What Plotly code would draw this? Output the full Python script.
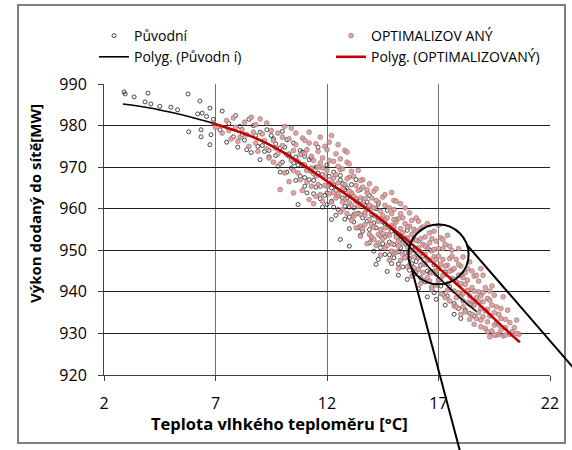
import plotly.graph_objects as go

# ---------------- data ----------------
orig_x = [2.9, 2.95, 3.35, 3.97, 3.84, 4.1, 4.5, 5.0, 5.3, 5.77, 6.2, 6.3, 6.75, 6.4, 6.6, 6.9, 7.3,
          5.8, 6.35, 6.35, 6.8, 6.75,
          7.2, 7.5, 7.6, 7.8, 8.0, 8.1, 8.3, 8.5, 8.6, 8.8, 9.0, 9.1, 9.3, 9.4, 9.6, 9.8, 9.9, 10.0,
          10.2, 10.3, 10.5, 10.6, 10.7, 10.9, 11.0, 11.1, 11.2, 11.3, 11.5, 11.6, 10.7,
          11.8, 11.9, 12.0, 12.1, 12.2, 12.3, 12.4, 12.5, 12.6, 12.7, 12.8, 12.9, 13.0, 13.1, 13.2,
          13.3, 13.4, 13.5, 13.6, 13.7, 13.8, 13.9, 14.0, 14.1, 14.2, 14.3, 14.4, 14.5, 14.6, 14.7,
          14.8, 14.9, 15.0, 15.1, 15.2, 15.3, 15.5, 15.6, 15.7, 15.8, 16.0, 16.1,
          16.2, 16.3, 16.5, 16.6, 16.7, 16.8, 17.0, 17.2, 17.3, 17.5, 17.7, 17.8, 18.0, 18.2, 18.3,
          18.5, 18.6,
          12.2, 12.6, 13.0, 14.2, 14.7,
          7.9, 8.2, 8.4, 8.7, 8.9, 9.2, 9.5, 9.7, 9.9, 10.1, 10.4, 10.6, 10.8, 10.9, 11.0, 11.2, 11.3,
          11.4, 11.6, 11.7, 11.8, 12.0, 12.1, 12.2, 12.3, 12.5, 12.6, 12.8, 12.9, 13.0, 13.1, 13.2,
          13.4, 13.5, 13.6, 13.8, 13.9, 14.0, 14.1, 14.2, 14.4, 14.5, 14.6, 14.8, 15.0, 15.1, 15.2,
          15.4, 15.5, 15.7, 15.9, 16.0, 16.2, 16.4, 16.6, 16.8, 16.9, 17.1, 17.4, 17.6, 17.9, 18.1,
          18.4, 9.0, 10.2, 11.5, 12.7, 13.3, 14.3, 15.3,
          9.4, 9.7, 10.0, 10.3, 10.5, 10.8, 11.0, 11.1, 11.4, 11.7, 12.0, 12.3, 12.4, 12.8, 13.0, 13.2,
          13.5, 13.7, 13.9, 14.1, 14.3, 14.6, 14.9, 15.2, 15.6, 15.8, 16.1, 16.5, 16.9, 17.3, 17.7, 18.0]
orig_y = [988.1, 987.6, 986.9, 987.8, 985.7, 985.2, 984.6, 984.4, 983.8, 987.6, 982.8, 985.9, 984.2, 983.0, 982.2, 981.5, 983.5,
          978.5, 979.0, 977.3, 977.8, 975.4,
          979.0, 976.0, 980.5, 977.3, 974.8, 979.8, 976.5, 981.5, 973.5, 977.6, 971.8, 975.2, 979.0, 972.5, 976.8, 970.2, 974.6, 978.6,
          968.8, 972.6, 975.8, 966.8, 970.5, 973.6, 967.5, 963.8, 971.8, 969.0, 965.2, 974.8, 961.0,
          968.2, 963.2, 970.5, 966.0, 961.8, 968.8, 964.4, 959.8, 966.9, 962.6, 957.5, 965.0, 960.4, 963.6, 956.8,
          967.0, 958.9, 962.0, 954.6, 960.8, 957.0, 963.2, 952.9, 958.4, 955.4, 961.1, 950.6, 956.8, 953.2, 959.6,
          948.9, 954.6, 951.4, 957.4, 946.7, 952.6, 949.4, 954.8, 945.2, 950.8, 947.3, 952.2,
          943.4, 948.6, 945.0, 950.1, 941.2, 946.5, 943.0, 939.4, 944.8, 941.2, 937.2, 942.4, 939.0, 935.6, 940.2,
          937.0, 934.2,
          957.4, 952.6, 951.0, 946.6, 944.9,
          982.4, 977.8, 974.2, 980.0, 975.0, 973.8, 977.6, 972.8, 968.8, 974.8, 969.8, 972.4, 967.8, 970.6, 965.4, 967.0, 972.2,
          963.6, 968.6, 965.4, 960.4, 963.8, 967.8, 965.0, 960.4, 963.0, 968.0, 960.6, 962.6, 958.0, 965.8, 960.2,
          955.4, 964.6, 957.8, 961.6, 955.0, 958.6, 949.8, 960.0, 953.4, 951.6, 956.4, 952.0, 948.2, 954.0, 949.6,
          946.0, 951.6, 948.0, 944.2, 950.2, 946.4, 942.4, 944.6, 939.8, 944.2, 941.4, 939.0, 943.0, 936.0, 937.8,
          934.8, 978.4, 976.6, 970.0, 966.0, 962.4, 957.6, 950.6,
          974.0, 975.6, 971.2, 973.2, 971.0, 974.0, 972.6, 969.4, 966.8, 962.4, 961.0, 965.8, 958.4, 964.6, 955.2, 958.6,
          953.6, 959.0, 951.8, 956.6, 947.8, 949.0, 946.8, 944.0, 943.0, 946.8, 940.8, 938.8, 938.2, 936.8, 934.6, 933.6]

opt_x = [7.0, 7.3, 7.5, 7.7, 7.9, 8.1, 8.3, 8.5, 8.7, 8.9, 9.0, 9.2, 9.4, 9.5, 9.7, 9.9, 10.0, 10.2, 10.4, 10.5,
         10.6, 10.7, 10.8, 10.9, 11.0, 11.1, 11.2, 11.3, 11.4, 11.5, 11.6, 11.7, 11.8, 11.9, 12.0, 12.1,
         12.2, 12.3, 12.4, 12.5, 12.6, 12.7, 12.8, 12.9, 13.0, 13.0,
         9.9, 10.5, 11.2, 10.3,
         13.1, 13.2, 13.3, 13.4, 13.5, 13.5, 13.6, 13.7, 13.8, 13.9, 14.0, 14.0, 14.1, 14.2, 14.3, 14.3,
         14.4, 14.5, 14.6, 14.6, 14.7, 14.8, 14.9, 15.0, 15.0, 15.1, 15.2, 15.3, 15.3, 15.4, 15.5, 15.6,
         15.7, 15.7, 15.8, 15.9, 16.0, 16.0,
         16.1, 16.2, 16.3, 16.3, 16.4, 16.5, 16.6, 16.7, 16.7, 16.8, 16.9, 17.0, 17.0, 17.1, 17.2, 17.3,
         17.3, 17.4, 17.5, 17.5, 17.6, 17.7, 17.8, 17.9, 18.0, 18.0,
         18.1, 18.2, 18.3, 18.4, 18.5, 18.6, 18.7, 18.8, 18.9, 19.0, 19.1, 19.2, 19.3, 19.4, 19.5, 19.6,
         19.7, 19.8, 19.9, 20.0, 20.1, 20.3, 20.5,
         19.3, 19.6, 20.6, 18.9, 14.9,
         7.6, 7.8, 8.0, 8.2, 8.4, 8.6, 8.8, 8.8, 9.1, 9.3, 9.3, 9.6, 9.6, 9.8, 9.8,
         10.0, 10.1, 10.1, 10.3, 10.4, 10.5, 10.6, 10.7, 10.8, 10.9, 11.0, 11.0, 11.1, 11.2, 11.3, 11.4,
         11.4, 11.5, 11.6, 11.6, 11.7, 11.8, 11.8, 11.9, 12.0, 12.0, 12.1, 12.2, 12.2, 12.3,
         12.4, 12.4, 12.5, 12.5, 12.6, 12.6, 12.7, 12.7, 12.8, 12.8, 12.9, 12.9, 13.0, 13.0, 13.1, 13.1,
         13.2, 13.2, 13.3, 13.3, 13.4, 13.4, 13.5, 13.5, 13.6, 13.6, 13.7, 13.7, 13.8, 13.8, 13.9, 13.9,
         14.0, 14.0, 14.1, 14.1, 14.2, 14.2, 14.3, 14.3,
         14.4, 14.4, 14.5, 14.5, 14.6, 14.6, 14.7, 14.7, 14.8, 14.8, 14.9, 14.9, 15.0, 15.0, 15.1, 15.1,
         15.2, 15.2, 15.3, 15.3, 15.4, 15.4, 15.5, 15.5, 15.6, 15.6, 15.7, 15.7, 15.8, 15.8, 15.9, 15.9,
         16.0, 16.0, 16.1, 16.1, 16.2, 16.2, 16.3, 16.3,
         16.4, 16.4, 16.5, 16.5, 16.6, 16.6, 16.7, 16.8, 16.8, 16.9, 16.9, 17.0, 17.0, 17.1, 17.1, 17.2,
         17.2, 17.3, 17.4, 17.4, 17.5, 17.5, 17.6, 17.6, 17.7, 17.7, 17.8, 17.8, 17.9, 17.9, 18.0, 18.0,
         18.1, 18.1, 18.2, 18.3, 18.3, 18.4, 18.4, 18.5,
         18.5, 18.6, 18.6, 18.7, 18.8, 18.8, 18.9, 18.9, 19.0, 19.0, 19.1, 19.2, 19.2, 19.3, 19.4, 19.5,
         19.5, 19.6, 19.7, 19.8, 19.9, 20.0, 20.2, 20.4, 20.5,
         11.1, 11.3, 11.5, 11.7, 11.9, 12.1, 12.3, 12.5, 12.7, 12.9, 13.1, 13.3,
         13.5, 13.6, 13.8, 13.9, 14.1, 14.2, 14.4, 14.5, 14.6, 14.8, 14.9, 15.0, 15.1, 15.2, 15.4, 15.5,
         15.6, 15.7, 15.8, 15.9, 16.0, 16.1, 16.2, 16.3, 16.4, 16.5, 16.6, 16.7, 16.8, 16.9, 17.0, 17.1,
         17.2, 17.3, 17.4, 17.5,
         17.6, 17.7, 17.8, 17.9, 18.0, 18.1, 18.2, 18.3, 18.4, 18.5, 18.6, 18.7, 18.8, 18.9, 19.0, 19.1,
         19.2, 19.3, 19.4, 19.5, 19.7, 19.8, 20.0, 20.2]
opt_y = [979.6, 978.2, 981.2, 976.8, 979.6, 977.2, 980.8, 975.0, 978.4, 973.8, 981.6, 976.4, 972.2, 978.8, 974.6, 970.8, 977.2, 973.0, 979.4, 969.2,
         975.4, 971.4, 967.0, 977.0, 973.2, 969.2, 975.8, 965.4, 971.6, 967.8, 973.8, 963.4, 969.8, 975.0, 965.4, 971.6,
         961.6, 967.4, 973.2, 963.6, 969.4, 959.8, 965.8, 971.2, 961.4, 967.6,
         964.6, 963.8, 962.2, 966.5,
         963.8, 958.2, 965.6, 960.6, 955.8, 962.6, 967.0, 958.4, 963.8, 953.8, 960.4, 956.2, 964.2, 958.2, 951.8, 961.6,
         955.0, 962.8, 957.2, 950.6, 953.8, 960.2, 956.0, 949.2, 959.8, 953.2, 957.6, 961.2, 947.6, 951.8, 956.4, 953.0,
         959.0, 946.4, 950.0, 955.0, 944.8, 957.8,
         948.2, 952.8, 955.6, 942.8, 946.6, 950.6, 954.2, 944.6, 940.6, 948.4, 952.2, 942.8, 956.0, 946.6, 950.4, 938.6,
         944.2, 953.6, 940.6, 948.0, 945.2, 936.6, 942.4, 950.4, 938.8, 946.2,
         943.4, 935.2, 940.4, 947.2, 937.6, 943.8, 933.6, 940.0, 936.0, 944.0, 931.2, 938.4, 934.2, 941.4, 932.0, 936.4,
         929.8, 933.6, 938.8, 931.4, 935.6, 930.4, 933.2,
         929.2, 929.6, 929.8, 945.6, 963.9,
         978.8, 981.8, 976.2, 979.0, 977.8, 982.0, 975.8, 980.2, 978.0, 974.4, 980.6, 976.4, 971.2, 978.2, 973.2,
         975.2, 968.6, 979.8, 976.8, 971.6, 974.0, 978.2, 968.6, 973.0, 964.4, 976.4, 970.6, 966.4, 978.4, 972.6, 968.4,
         961.2, 975.6, 970.0, 965.8, 977.2, 972.2, 961.8, 967.8, 974.2, 969.2, 963.6, 977.6, 966.4, 971.4,
         962.6, 968.2, 975.4, 966.2, 959.2, 972.0, 964.8, 969.6, 962.2, 974.0, 958.8, 967.2, 964.2, 970.8, 957.2, 960.8,
         967.8, 963.0, 955.4, 961.8, 969.2, 964.4, 958.6, 953.4, 961.0, 965.2, 956.2, 962.4, 951.6, 959.8, 966.0, 957.4,
         962.6, 953.2, 960.2, 955.6, 964.8, 951.2, 957.0, 953.8,
         959.4, 948.8, 954.0, 958.4, 963.4, 955.4, 951.2, 957.8, 947.6, 953.6, 958.8, 951.6, 955.6, 962.0, 949.6, 956.8,
         952.2, 945.6, 955.2, 958.8, 949.0, 954.2, 952.8, 960.2, 946.0, 950.8, 955.8, 952.0, 957.2, 943.8, 948.4, 952.6,
         950.0, 954.6, 945.4, 957.0, 949.6, 942.0, 951.4, 946.8,
         953.2, 949.0, 943.4, 956.4, 947.6, 951.8, 949.8, 945.0, 954.6, 941.6, 947.8, 950.4, 945.6, 953.0, 939.6, 944.0,
         947.8, 951.4, 942.0, 946.4, 937.8, 951.0, 943.2, 948.6, 940.2, 945.6, 936.4, 947.8, 939.8, 944.0, 942.0, 934.6,
         939.6, 948.4, 944.6, 937.4, 942.8, 933.4, 939.0, 945.0,
         941.0, 936.8, 932.2, 938.6, 942.6, 935.0, 931.6, 939.0, 934.0, 937.6, 941.0, 932.8, 935.8, 938.0, 930.6, 935.0,
         939.2, 932.6, 934.6, 930.8, 929.4, 933.4, 929.8, 931.4, 930.0,
         974.2, 969.8, 963.0, 971.0, 965.6, 976.0, 963.8, 970.2, 961.6, 973.6, 969.0, 958.8,
         966.8, 955.2, 964.6, 960.8, 952.6, 962.0, 957.6, 952.8, 960.8, 955.4, 949.8, 957.4, 961.8, 951.0, 957.8, 948.2,
         955.6, 949.4, 953.8, 945.8, 952.4, 950.6, 955.2, 944.6, 951.0, 947.8, 942.6, 952.8, 950.2, 945.0, 948.6, 943.0,
         952.6, 946.2, 940.4, 945.0,
         950.0, 943.0, 938.6, 946.6, 944.0, 936.4, 941.8, 945.6, 937.0, 934.6, 940.2, 944.0, 937.6, 933.2, 939.8, 935.4,
         930.4, 940.2, 936.8, 929.6, 932.0, 936.0, 929.6, 932.6]

# trend lines (polynomial fits)
trend_orig_x = [2.85, 4, 5, 6, 7, 8, 9, 10, 11, 12, 13, 14, 15, 16, 17, 18, 18.7]
trend_orig_y = [985.2, 984.3, 983.2, 981.9, 980.4, 978.6, 976.5, 973.7, 970.3, 966.6, 962.9, 959.1, 954.6, 949.2, 943.5, 938.4, 935.3]
trend_opt_x = [6.8, 8, 9, 10, 11, 12, 13, 14, 15, 16, 17, 18, 19, 20, 20.65]
trend_opt_y = [980.7, 978.6, 976.5, 973.7, 970.3, 966.6, 962.9, 959.1, 955.0, 950.6, 945.8, 941.0, 936.1, 931.0, 927.9]

x_ticks = [2, 7, 12, 17, 22]
y_ticks = [920, 930, 940, 950, 960, 970, 980, 990]

FONT = "Open Sans"

fig = go.Figure()
fig.add_trace(go.Scatter(x=orig_x, y=orig_y, mode="markers", name="Původní",
                         marker=dict(symbol="circle-open", size=4, color="rgba(40,40,40,0.85)",
                                     line=dict(width=1))))
fig.add_trace(go.Scatter(x=opt_x, y=opt_y, mode="markers", name="OPTIMALIZOV ANÝ",
                         marker=dict(size=4.8, color="rgba(234,152,152,0.9)",
                                     line=dict(width=0.8, color="rgba(125,112,112,0.75)"))))
fig.add_trace(go.Scatter(x=trend_orig_x, y=trend_orig_y, mode="lines", name="Polyg. (Původn í)",
                         line=dict(color="black", width=1.6, shape="spline")))
fig.add_trace(go.Scatter(x=trend_opt_x, y=trend_opt_y, mode="lines", name="Polyg. (OPTIMALIZOVANÝ)",
                         line=dict(color="#c00000", width=2.6, shape="spline")))

# plot area in pixels: x 104..550, y 84..375
def px(p):
    return (p - 104) / 446.0

def py(p):
    return (375 - p) / 291.0

shapes = [
    # outer chart border
    dict(type="rect", xref="paper", yref="paper", x0=px(18), x1=px(565), y0=py(443), y1=py(5),
         line=dict(color="#7f7f7f", width=2), layer="above"),
    # magnifier circle
    dict(type="circle", xref="x", yref="y", x0=17 - 1.35, x1=17 + 1.35, y0=949 - 7.2, y1=949 + 7.2,
         line=dict(color="black", width=2)),
    # zoom lines
    dict(type="line", xref="paper", yref="paper", x0=px(412), y0=py(270), x1=px(461), y1=py(455),
         line=dict(color="black", width=2)),
    dict(type="line", xref="paper", yref="paper", x0=px(467), y0=py(245), x1=px(577), y1=py(372),
         line=dict(color="black", width=2)),
]

fig.update_layout(
    width=572, height=450,
    margin=dict(l=104, r=22, t=84, b=75),
    paper_bgcolor="white", plot_bgcolor="white",
    font=dict(family=FONT, color="black"),
    shapes=shapes,
    showlegend=True,
    legend=dict(orientation="h", x=px(94), y=py(20), xanchor="left", yanchor="top",
                entrywidth=192, font=dict(size=14, family=FONT), bgcolor="rgba(0,0,0,0)",
                tracegroupgap=0),
    annotations=[
        dict(text="<b>Teplota vlhkého teploměru [°C]</b>", xref="paper", yref="paper",
             x=px(279), y=py(423), xanchor="center", yanchor="middle", showarrow=False,
             font=dict(size=16.5, family=FONT)),
        dict(text="<b>Výkon dodaný do sítě[MW]</b>", xref="paper", yref="paper",
             x=px(35), y=py(204), xanchor="center", yanchor="middle", showarrow=False,
             textangle=-90, font=dict(size=15, family=FONT)),
    ],
)
fig.update_xaxes(range=[2, 22], tickvals=x_ticks, showgrid=True, gridcolor="#707070", gridwidth=1,
                 showline=True, linecolor="#404040", linewidth=1, ticks="outside", ticklen=5,
                 tickcolor="#404040", zeroline=False, tickfont=dict(size=16, family=FONT),
                 ticklabelstandoff=9)
fig.update_yaxes(range=[920, 990], tickvals=y_ticks, showgrid=True, gridcolor="#202020", gridwidth=1,
                 showline=True, linecolor="#404040", linewidth=1, ticks="outside", ticklen=5,
                 tickcolor="#404040", zeroline=False, tickfont=dict(size=16, family=FONT),
                 ticklabelstandoff=8)

fig.write_html("out.html", config={"displayModeBar": False},
               post_script="document.body.style.margin='0px';")
